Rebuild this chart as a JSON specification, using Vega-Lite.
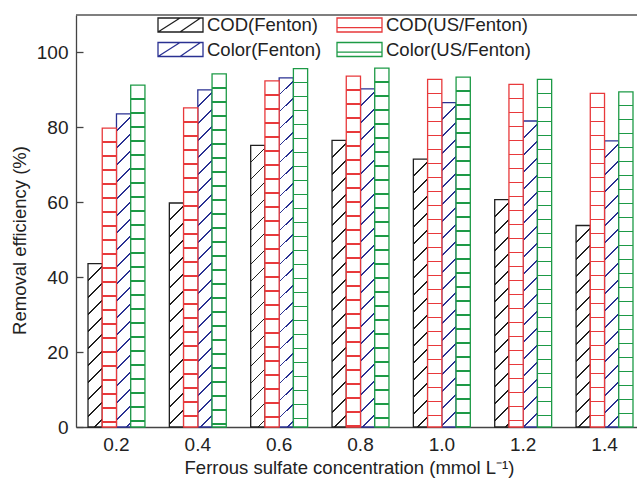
{
  "$schema": "https://vega.github.io/schema/vega-lite/v6.json",
  "width": 561,
  "height": 412,
  "autosize": {"type": "none"},
  "padding": {"left": 76, "top": 15, "right": 0, "bottom": 55},
  "background": "white",
  "config": {
    "view": {"stroke": null},
    "font": "Liberation Sans",
    "axis": {
      "labelFont": "Liberation Sans", "titleFont": "Liberation Sans",
      "labelColor": "#222", "titleColor": "#222",
      "domainColor": "#444", "tickColor": "#444",
      "domainWidth": 1.3, "tickWidth": 1.3,
      "labelFontSize": 19, "titleFontSize": 18.5, "titleFontWeight": "normal",
      "grid": false
    },
    "legend": {
      "title": null, "orient": "none", "direction": "vertical", "padding": 0,
      "labelFont": "Liberation Sans", "labelFontSize": 18.5, "labelColor": "#222", "labelLimit": 300,
      "symbolSize": 256, "symbolStrokeWidth": 1.3, "symbolFillColor": "#fff",
      "labelOffset": 17.25, "rowPadding": 4.5
    }
  },
  "params": [
    {"name": "stK", "value": [
      {"offset":0.04025,"color":"#fff"},{"offset":0.04025,"color":"#1f1f1f"},{"offset":0.04475,"color":"#1f1f1f"},{"offset":0.04475,"color":"#fff"},
      {"offset":0.08275,"color":"#fff"},{"offset":0.08275,"color":"#1f1f1f"},{"offset":0.08725,"color":"#1f1f1f"},{"offset":0.08725,"color":"#fff"},
      {"offset":0.12525,"color":"#fff"},{"offset":0.12525,"color":"#1f1f1f"},{"offset":0.12975,"color":"#1f1f1f"},{"offset":0.12975,"color":"#fff"},
      {"offset":0.16775,"color":"#fff"},{"offset":0.16775,"color":"#1f1f1f"},{"offset":0.17225,"color":"#1f1f1f"},{"offset":0.17225,"color":"#fff"},
      {"offset":0.21025,"color":"#fff"},{"offset":0.21025,"color":"#1f1f1f"},{"offset":0.21475,"color":"#1f1f1f"},{"offset":0.21475,"color":"#fff"},
      {"offset":0.25275,"color":"#fff"},{"offset":0.25275,"color":"#1f1f1f"},{"offset":0.25725,"color":"#1f1f1f"},{"offset":0.25725,"color":"#fff"},
      {"offset":0.29525,"color":"#fff"},{"offset":0.29525,"color":"#1f1f1f"},{"offset":0.29975,"color":"#1f1f1f"},{"offset":0.29975,"color":"#fff"},
      {"offset":0.33775,"color":"#fff"},{"offset":0.33775,"color":"#1f1f1f"},{"offset":0.34225,"color":"#1f1f1f"},{"offset":0.34225,"color":"#fff"},
      {"offset":0.38025,"color":"#fff"},{"offset":0.38025,"color":"#1f1f1f"},{"offset":0.38475,"color":"#1f1f1f"},{"offset":0.38475,"color":"#fff"},
      {"offset":0.42275,"color":"#fff"},{"offset":0.42275,"color":"#1f1f1f"},{"offset":0.42725,"color":"#1f1f1f"},{"offset":0.42725,"color":"#fff"},
      {"offset":0.46525,"color":"#fff"},{"offset":0.46525,"color":"#1f1f1f"},{"offset":0.46975,"color":"#1f1f1f"},{"offset":0.46975,"color":"#fff"},
      {"offset":0.50775,"color":"#fff"},{"offset":0.50775,"color":"#1f1f1f"},{"offset":0.51225,"color":"#1f1f1f"},{"offset":0.51225,"color":"#fff"},
      {"offset":0.55025,"color":"#fff"},{"offset":0.55025,"color":"#1f1f1f"},{"offset":0.55475,"color":"#1f1f1f"},{"offset":0.55475,"color":"#fff"},
      {"offset":0.59275,"color":"#fff"},{"offset":0.59275,"color":"#1f1f1f"},{"offset":0.59725,"color":"#1f1f1f"},{"offset":0.59725,"color":"#fff"},
      {"offset":0.63525,"color":"#fff"},{"offset":0.63525,"color":"#1f1f1f"},{"offset":0.63975,"color":"#1f1f1f"},{"offset":0.63975,"color":"#fff"},
      {"offset":0.67775,"color":"#fff"},{"offset":0.67775,"color":"#1f1f1f"},{"offset":0.68225,"color":"#1f1f1f"},{"offset":0.68225,"color":"#fff"},
      {"offset":0.72025,"color":"#fff"},{"offset":0.72025,"color":"#1f1f1f"},{"offset":0.72475,"color":"#1f1f1f"},{"offset":0.72475,"color":"#fff"},
      {"offset":0.76275,"color":"#fff"},{"offset":0.76275,"color":"#1f1f1f"},{"offset":0.76725,"color":"#1f1f1f"},{"offset":0.76725,"color":"#fff"},
      {"offset":0.80525,"color":"#fff"},{"offset":0.80525,"color":"#1f1f1f"},{"offset":0.80975,"color":"#1f1f1f"},{"offset":0.80975,"color":"#fff"},
      {"offset":0.84775,"color":"#fff"},{"offset":0.84775,"color":"#1f1f1f"},{"offset":0.85225,"color":"#1f1f1f"},{"offset":0.85225,"color":"#fff"},
      {"offset":0.89025,"color":"#fff"},{"offset":0.89025,"color":"#1f1f1f"},{"offset":0.89475,"color":"#1f1f1f"},{"offset":0.89475,"color":"#fff"},
      {"offset":0.93275,"color":"#fff"},{"offset":0.93275,"color":"#1f1f1f"},{"offset":0.93725,"color":"#1f1f1f"},{"offset":0.93725,"color":"#fff"}
    ]},
    {"name": "stB", "value": [
      {"offset":0.04025,"color":"#fff"},{"offset":0.04025,"color":"#2a3192"},{"offset":0.04475,"color":"#2a3192"},{"offset":0.04475,"color":"#fff"},
      {"offset":0.08275,"color":"#fff"},{"offset":0.08275,"color":"#2a3192"},{"offset":0.08725,"color":"#2a3192"},{"offset":0.08725,"color":"#fff"},
      {"offset":0.12525,"color":"#fff"},{"offset":0.12525,"color":"#2a3192"},{"offset":0.12975,"color":"#2a3192"},{"offset":0.12975,"color":"#fff"},
      {"offset":0.16775,"color":"#fff"},{"offset":0.16775,"color":"#2a3192"},{"offset":0.17225,"color":"#2a3192"},{"offset":0.17225,"color":"#fff"},
      {"offset":0.21025,"color":"#fff"},{"offset":0.21025,"color":"#2a3192"},{"offset":0.21475,"color":"#2a3192"},{"offset":0.21475,"color":"#fff"},
      {"offset":0.25275,"color":"#fff"},{"offset":0.25275,"color":"#2a3192"},{"offset":0.25725,"color":"#2a3192"},{"offset":0.25725,"color":"#fff"},
      {"offset":0.29525,"color":"#fff"},{"offset":0.29525,"color":"#2a3192"},{"offset":0.29975,"color":"#2a3192"},{"offset":0.29975,"color":"#fff"},
      {"offset":0.33775,"color":"#fff"},{"offset":0.33775,"color":"#2a3192"},{"offset":0.34225,"color":"#2a3192"},{"offset":0.34225,"color":"#fff"},
      {"offset":0.38025,"color":"#fff"},{"offset":0.38025,"color":"#2a3192"},{"offset":0.38475,"color":"#2a3192"},{"offset":0.38475,"color":"#fff"},
      {"offset":0.42275,"color":"#fff"},{"offset":0.42275,"color":"#2a3192"},{"offset":0.42725,"color":"#2a3192"},{"offset":0.42725,"color":"#fff"},
      {"offset":0.46525,"color":"#fff"},{"offset":0.46525,"color":"#2a3192"},{"offset":0.46975,"color":"#2a3192"},{"offset":0.46975,"color":"#fff"},
      {"offset":0.50775,"color":"#fff"},{"offset":0.50775,"color":"#2a3192"},{"offset":0.51225,"color":"#2a3192"},{"offset":0.51225,"color":"#fff"},
      {"offset":0.55025,"color":"#fff"},{"offset":0.55025,"color":"#2a3192"},{"offset":0.55475,"color":"#2a3192"},{"offset":0.55475,"color":"#fff"},
      {"offset":0.59275,"color":"#fff"},{"offset":0.59275,"color":"#2a3192"},{"offset":0.59725,"color":"#2a3192"},{"offset":0.59725,"color":"#fff"},
      {"offset":0.63525,"color":"#fff"},{"offset":0.63525,"color":"#2a3192"},{"offset":0.63975,"color":"#2a3192"},{"offset":0.63975,"color":"#fff"},
      {"offset":0.67775,"color":"#fff"},{"offset":0.67775,"color":"#2a3192"},{"offset":0.68225,"color":"#2a3192"},{"offset":0.68225,"color":"#fff"},
      {"offset":0.72025,"color":"#fff"},{"offset":0.72025,"color":"#2a3192"},{"offset":0.72475,"color":"#2a3192"},{"offset":0.72475,"color":"#fff"},
      {"offset":0.76275,"color":"#fff"},{"offset":0.76275,"color":"#2a3192"},{"offset":0.76725,"color":"#2a3192"},{"offset":0.76725,"color":"#fff"},
      {"offset":0.80525,"color":"#fff"},{"offset":0.80525,"color":"#2a3192"},{"offset":0.80975,"color":"#2a3192"},{"offset":0.80975,"color":"#fff"},
      {"offset":0.84775,"color":"#fff"},{"offset":0.84775,"color":"#2a3192"},{"offset":0.85225,"color":"#2a3192"},{"offset":0.85225,"color":"#fff"},
      {"offset":0.89025,"color":"#fff"},{"offset":0.89025,"color":"#2a3192"},{"offset":0.89475,"color":"#2a3192"},{"offset":0.89475,"color":"#fff"},
      {"offset":0.93275,"color":"#fff"},{"offset":0.93275,"color":"#2a3192"},{"offset":0.93725,"color":"#2a3192"},{"offset":0.93725,"color":"#fff"}
    ]},
    {"name": "stR", "value": [
      {"offset":0.03325,"color":"#fff"},{"offset":0.03325,"color":"#e8393b"},{"offset":0.03675,"color":"#e8393b"},{"offset":0.03675,"color":"#fff"},
      {"offset":0.06825,"color":"#fff"},{"offset":0.06825,"color":"#e8393b"},{"offset":0.07175,"color":"#e8393b"},{"offset":0.07175,"color":"#fff"},
      {"offset":0.10325,"color":"#fff"},{"offset":0.10325,"color":"#e8393b"},{"offset":0.10675,"color":"#e8393b"},{"offset":0.10675,"color":"#fff"},
      {"offset":0.13825,"color":"#fff"},{"offset":0.13825,"color":"#e8393b"},{"offset":0.14175,"color":"#e8393b"},{"offset":0.14175,"color":"#fff"},
      {"offset":0.17325,"color":"#fff"},{"offset":0.17325,"color":"#e8393b"},{"offset":0.17675,"color":"#e8393b"},{"offset":0.17675,"color":"#fff"},
      {"offset":0.20825,"color":"#fff"},{"offset":0.20825,"color":"#e8393b"},{"offset":0.21175,"color":"#e8393b"},{"offset":0.21175,"color":"#fff"},
      {"offset":0.24325,"color":"#fff"},{"offset":0.24325,"color":"#e8393b"},{"offset":0.24675,"color":"#e8393b"},{"offset":0.24675,"color":"#fff"},
      {"offset":0.27825,"color":"#fff"},{"offset":0.27825,"color":"#e8393b"},{"offset":0.28175,"color":"#e8393b"},{"offset":0.28175,"color":"#fff"},
      {"offset":0.31325,"color":"#fff"},{"offset":0.31325,"color":"#e8393b"},{"offset":0.31675,"color":"#e8393b"},{"offset":0.31675,"color":"#fff"},
      {"offset":0.34825,"color":"#fff"},{"offset":0.34825,"color":"#e8393b"},{"offset":0.35175,"color":"#e8393b"},{"offset":0.35175,"color":"#fff"},
      {"offset":0.38325,"color":"#fff"},{"offset":0.38325,"color":"#e8393b"},{"offset":0.38675,"color":"#e8393b"},{"offset":0.38675,"color":"#fff"},
      {"offset":0.41825,"color":"#fff"},{"offset":0.41825,"color":"#e8393b"},{"offset":0.42175,"color":"#e8393b"},{"offset":0.42175,"color":"#fff"},
      {"offset":0.45325,"color":"#fff"},{"offset":0.45325,"color":"#e8393b"},{"offset":0.45675,"color":"#e8393b"},{"offset":0.45675,"color":"#fff"},
      {"offset":0.48825,"color":"#fff"},{"offset":0.48825,"color":"#e8393b"},{"offset":0.49175,"color":"#e8393b"},{"offset":0.49175,"color":"#fff"},
      {"offset":0.52325,"color":"#fff"},{"offset":0.52325,"color":"#e8393b"},{"offset":0.52675,"color":"#e8393b"},{"offset":0.52675,"color":"#fff"},
      {"offset":0.55825,"color":"#fff"},{"offset":0.55825,"color":"#e8393b"},{"offset":0.56175,"color":"#e8393b"},{"offset":0.56175,"color":"#fff"},
      {"offset":0.59325,"color":"#fff"},{"offset":0.59325,"color":"#e8393b"},{"offset":0.59675,"color":"#e8393b"},{"offset":0.59675,"color":"#fff"},
      {"offset":0.62825,"color":"#fff"},{"offset":0.62825,"color":"#e8393b"},{"offset":0.63175,"color":"#e8393b"},{"offset":0.63175,"color":"#fff"},
      {"offset":0.66325,"color":"#fff"},{"offset":0.66325,"color":"#e8393b"},{"offset":0.66675,"color":"#e8393b"},{"offset":0.66675,"color":"#fff"},
      {"offset":0.69825,"color":"#fff"},{"offset":0.69825,"color":"#e8393b"},{"offset":0.70175,"color":"#e8393b"},{"offset":0.70175,"color":"#fff"},
      {"offset":0.73325,"color":"#fff"},{"offset":0.73325,"color":"#e8393b"},{"offset":0.73675,"color":"#e8393b"},{"offset":0.73675,"color":"#fff"},
      {"offset":0.76825,"color":"#fff"},{"offset":0.76825,"color":"#e8393b"},{"offset":0.77175,"color":"#e8393b"},{"offset":0.77175,"color":"#fff"},
      {"offset":0.80325,"color":"#fff"},{"offset":0.80325,"color":"#e8393b"},{"offset":0.80675,"color":"#e8393b"},{"offset":0.80675,"color":"#fff"},
      {"offset":0.83825,"color":"#fff"},{"offset":0.83825,"color":"#e8393b"},{"offset":0.84175,"color":"#e8393b"},{"offset":0.84175,"color":"#fff"},
      {"offset":0.87325,"color":"#fff"},{"offset":0.87325,"color":"#e8393b"},{"offset":0.87675,"color":"#e8393b"},{"offset":0.87675,"color":"#fff"},
      {"offset":0.90825,"color":"#fff"},{"offset":0.90825,"color":"#e8393b"},{"offset":0.91175,"color":"#e8393b"},{"offset":0.91175,"color":"#fff"}
    ]},
    {"name": "stG", "value": [
      {"offset":0.03325,"color":"#fff"},{"offset":0.03325,"color":"#1d9a46"},{"offset":0.03675,"color":"#1d9a46"},{"offset":0.03675,"color":"#fff"},
      {"offset":0.06825,"color":"#fff"},{"offset":0.06825,"color":"#1d9a46"},{"offset":0.07175,"color":"#1d9a46"},{"offset":0.07175,"color":"#fff"},
      {"offset":0.10325,"color":"#fff"},{"offset":0.10325,"color":"#1d9a46"},{"offset":0.10675,"color":"#1d9a46"},{"offset":0.10675,"color":"#fff"},
      {"offset":0.13825,"color":"#fff"},{"offset":0.13825,"color":"#1d9a46"},{"offset":0.14175,"color":"#1d9a46"},{"offset":0.14175,"color":"#fff"},
      {"offset":0.17325,"color":"#fff"},{"offset":0.17325,"color":"#1d9a46"},{"offset":0.17675,"color":"#1d9a46"},{"offset":0.17675,"color":"#fff"},
      {"offset":0.20825,"color":"#fff"},{"offset":0.20825,"color":"#1d9a46"},{"offset":0.21175,"color":"#1d9a46"},{"offset":0.21175,"color":"#fff"},
      {"offset":0.24325,"color":"#fff"},{"offset":0.24325,"color":"#1d9a46"},{"offset":0.24675,"color":"#1d9a46"},{"offset":0.24675,"color":"#fff"},
      {"offset":0.27825,"color":"#fff"},{"offset":0.27825,"color":"#1d9a46"},{"offset":0.28175,"color":"#1d9a46"},{"offset":0.28175,"color":"#fff"},
      {"offset":0.31325,"color":"#fff"},{"offset":0.31325,"color":"#1d9a46"},{"offset":0.31675,"color":"#1d9a46"},{"offset":0.31675,"color":"#fff"},
      {"offset":0.34825,"color":"#fff"},{"offset":0.34825,"color":"#1d9a46"},{"offset":0.35175,"color":"#1d9a46"},{"offset":0.35175,"color":"#fff"},
      {"offset":0.38325,"color":"#fff"},{"offset":0.38325,"color":"#1d9a46"},{"offset":0.38675,"color":"#1d9a46"},{"offset":0.38675,"color":"#fff"},
      {"offset":0.41825,"color":"#fff"},{"offset":0.41825,"color":"#1d9a46"},{"offset":0.42175,"color":"#1d9a46"},{"offset":0.42175,"color":"#fff"},
      {"offset":0.45325,"color":"#fff"},{"offset":0.45325,"color":"#1d9a46"},{"offset":0.45675,"color":"#1d9a46"},{"offset":0.45675,"color":"#fff"},
      {"offset":0.48825,"color":"#fff"},{"offset":0.48825,"color":"#1d9a46"},{"offset":0.49175,"color":"#1d9a46"},{"offset":0.49175,"color":"#fff"},
      {"offset":0.52325,"color":"#fff"},{"offset":0.52325,"color":"#1d9a46"},{"offset":0.52675,"color":"#1d9a46"},{"offset":0.52675,"color":"#fff"},
      {"offset":0.55825,"color":"#fff"},{"offset":0.55825,"color":"#1d9a46"},{"offset":0.56175,"color":"#1d9a46"},{"offset":0.56175,"color":"#fff"},
      {"offset":0.59325,"color":"#fff"},{"offset":0.59325,"color":"#1d9a46"},{"offset":0.59675,"color":"#1d9a46"},{"offset":0.59675,"color":"#fff"},
      {"offset":0.62825,"color":"#fff"},{"offset":0.62825,"color":"#1d9a46"},{"offset":0.63175,"color":"#1d9a46"},{"offset":0.63175,"color":"#fff"},
      {"offset":0.66325,"color":"#fff"},{"offset":0.66325,"color":"#1d9a46"},{"offset":0.66675,"color":"#1d9a46"},{"offset":0.66675,"color":"#fff"},
      {"offset":0.69825,"color":"#fff"},{"offset":0.69825,"color":"#1d9a46"},{"offset":0.70175,"color":"#1d9a46"},{"offset":0.70175,"color":"#fff"},
      {"offset":0.73325,"color":"#fff"},{"offset":0.73325,"color":"#1d9a46"},{"offset":0.73675,"color":"#1d9a46"},{"offset":0.73675,"color":"#fff"},
      {"offset":0.76825,"color":"#fff"},{"offset":0.76825,"color":"#1d9a46"},{"offset":0.77175,"color":"#1d9a46"},{"offset":0.77175,"color":"#fff"},
      {"offset":0.80325,"color":"#fff"},{"offset":0.80325,"color":"#1d9a46"},{"offset":0.80675,"color":"#1d9a46"},{"offset":0.80675,"color":"#fff"},
      {"offset":0.83825,"color":"#fff"},{"offset":0.83825,"color":"#1d9a46"},{"offset":0.84175,"color":"#1d9a46"},{"offset":0.84175,"color":"#fff"},
      {"offset":0.87325,"color":"#fff"},{"offset":0.87325,"color":"#1d9a46"},{"offset":0.87675,"color":"#1d9a46"},{"offset":0.87675,"color":"#fff"},
      {"offset":0.90825,"color":"#fff"},{"offset":0.90825,"color":"#1d9a46"},{"offset":0.91175,"color":"#1d9a46"},{"offset":0.91175,"color":"#fff"}
    ]}
  ],
  "data": {"values": [
    {"conc": "0.2", "series": "COD(Fenton)", "process": "Fenton", "value": 43.6},
    {"conc": "0.2", "series": "COD(US/Fenton)", "process": "US/Fenton", "value": 79.8},
    {"conc": "0.2", "series": "Color(Fenton)", "process": "Fenton", "value": 83.6},
    {"conc": "0.2", "series": "Color(US/Fenton)", "process": "US/Fenton", "value": 91.3},
    {"conc": "0.4", "series": "COD(Fenton)", "process": "Fenton", "value": 59.8},
    {"conc": "0.4", "series": "COD(US/Fenton)", "process": "US/Fenton", "value": 85.2},
    {"conc": "0.4", "series": "Color(Fenton)", "process": "Fenton", "value": 90.0},
    {"conc": "0.4", "series": "Color(US/Fenton)", "process": "US/Fenton", "value": 94.3},
    {"conc": "0.6", "series": "COD(Fenton)", "process": "Fenton", "value": 75.2},
    {"conc": "0.6", "series": "COD(US/Fenton)", "process": "US/Fenton", "value": 92.4},
    {"conc": "0.6", "series": "Color(Fenton)", "process": "Fenton", "value": 93.2},
    {"conc": "0.6", "series": "Color(US/Fenton)", "process": "US/Fenton", "value": 95.7},
    {"conc": "0.8", "series": "COD(Fenton)", "process": "Fenton", "value": 76.5},
    {"conc": "0.8", "series": "COD(US/Fenton)", "process": "US/Fenton", "value": 93.7},
    {"conc": "0.8", "series": "Color(Fenton)", "process": "Fenton", "value": 90.3},
    {"conc": "0.8", "series": "Color(US/Fenton)", "process": "US/Fenton", "value": 95.8},
    {"conc": "1.0", "series": "COD(Fenton)", "process": "Fenton", "value": 71.5},
    {"conc": "1.0", "series": "COD(US/Fenton)", "process": "US/Fenton", "value": 92.8},
    {"conc": "1.0", "series": "Color(Fenton)", "process": "Fenton", "value": 86.6},
    {"conc": "1.0", "series": "Color(US/Fenton)", "process": "US/Fenton", "value": 93.4},
    {"conc": "1.2", "series": "COD(Fenton)", "process": "Fenton", "value": 60.7},
    {"conc": "1.2", "series": "COD(US/Fenton)", "process": "US/Fenton", "value": 91.5},
    {"conc": "1.2", "series": "Color(Fenton)", "process": "Fenton", "value": 81.7},
    {"conc": "1.2", "series": "Color(US/Fenton)", "process": "US/Fenton", "value": 92.8},
    {"conc": "1.4", "series": "COD(Fenton)", "process": "Fenton", "value": 53.8},
    {"conc": "1.4", "series": "COD(US/Fenton)", "process": "US/Fenton", "value": 89.1},
    {"conc": "1.4", "series": "Color(Fenton)", "process": "Fenton", "value": 76.4},
    {"conc": "1.4", "series": "Color(US/Fenton)", "process": "US/Fenton", "value": 89.5}
  ]},
  "resolve": {"scale": {"stroke": "independent"}},
  "layer": [
    {
      "transform": [{"filter": "datum.process == 'Fenton'"}],
      "mark": {
        "type": "bar",
        "strokeWidth": 1.3,
        "fill": {"expr": "!datum.series ? '#fff' : {gradient:'linear',x1:0,y1:0,x2:5680/(201.64+pow(scale('y',0)-scale('y',datum.value),2)),y2:400*(scale('y',0)-scale('y',datum.value))/(201.64+pow(scale('y',0)-scale('y',datum.value),2)),stops:(datum.series=='COD(Fenton)'?stK:stB)}"}
      },
      "encoding": {
        "x": {
          "field": "conc", "type": "ordinal",
          "sort": ["0.2","0.4","0.6","0.8","1.0","1.2","1.4"],
          "scale": {"range": [0, 569], "paddingInner": 0.3, "paddingOuter": 0.1476},
          "axis": {"title": "Ferrous sulfate concentration (mmol L⁻¹)", "labelAngle": 0, "ticks": false, "labelPadding": 8, "titlePadding": 4, "titleX": 273}
        },
        "xOffset": {
          "field": "series", "type": "nominal",
          "scale": {"domain": ["COD(Fenton)","COD(US/Fenton)","Color(Fenton)","Color(US/Fenton)"], "paddingInner": 0, "paddingOuter": 0}
        },
        "y": {
          "field": "value", "type": "quantitative",
          "title": "Removal efficiency (%)",
          "scale": {"domain": [0, 110], "nice": false},
          "axis": {"values": [0,20,40,60,80,100], "tickSize": -7, "labelPadding": 15, "titlePadding": 7, "titleY": 225}
        },
        "stroke": {
          "field": "series", "type": "nominal",
          "scale": {"domain": ["COD(Fenton)","Color(Fenton)"], "range": ["#1f1f1f","#2a3192"]},
          "legend": {
            "legendX": 95.25, "legendY": 0.75,
            "symbolType": "M-2.8125,-0.875H2.8125V0.875H-2.8125Z M-2.8125,0.875L-0.0625,-0.875M-0.0625,0.875L2.5,-0.875"
          }
        }
      }
    },
    {
      "transform": [{"filter": "datum.process == 'US/Fenton'"}],
      "mark": {
        "type": "bar",
        "strokeWidth": 1.3,
        "fill": {"expr": "!datum.series ? '#fff' : {gradient:'linear',x1:0,y1:0,x2:0,y2:400/(scale('y',0)-scale('y',datum.value)),stops:(datum.series=='COD(US/Fenton)'?stR:stG)}"}
      },
      "encoding": {
        "x": {
          "field": "conc", "type": "ordinal",
          "sort": ["0.2","0.4","0.6","0.8","1.0","1.2","1.4"]
        },
        "xOffset": {
          "field": "series", "type": "nominal",
          "scale": {"domain": ["COD(Fenton)","COD(US/Fenton)","Color(Fenton)","Color(US/Fenton)"]}
        },
        "y": {
          "field": "value", "type": "quantitative",
          "title": "Removal efficiency (%)"
        },
        "stroke": {
          "field": "series", "type": "nominal",
          "scale": {"domain": ["COD(US/Fenton)","Color(US/Fenton)"], "range": ["#e8393b","#1d9a46"]},
          "legend": {
            "legendX": 274.25, "legendY": 0.75,
            "symbolType": "M-2.8125,-0.875H2.8125V0.875H-2.8125Z M-2.8125,0.34H2.8125"
          }
        }
      }
    },
    {
      "data": {"values": [{"edge": "top"}]},
      "mark": {"type": "rule", "color": "#555", "strokeWidth": 1.4},
      "encoding": {"y": {"datum": 110, "type": "quantitative", "title": "Removal efficiency (%)"}}
    }
  ]
}
